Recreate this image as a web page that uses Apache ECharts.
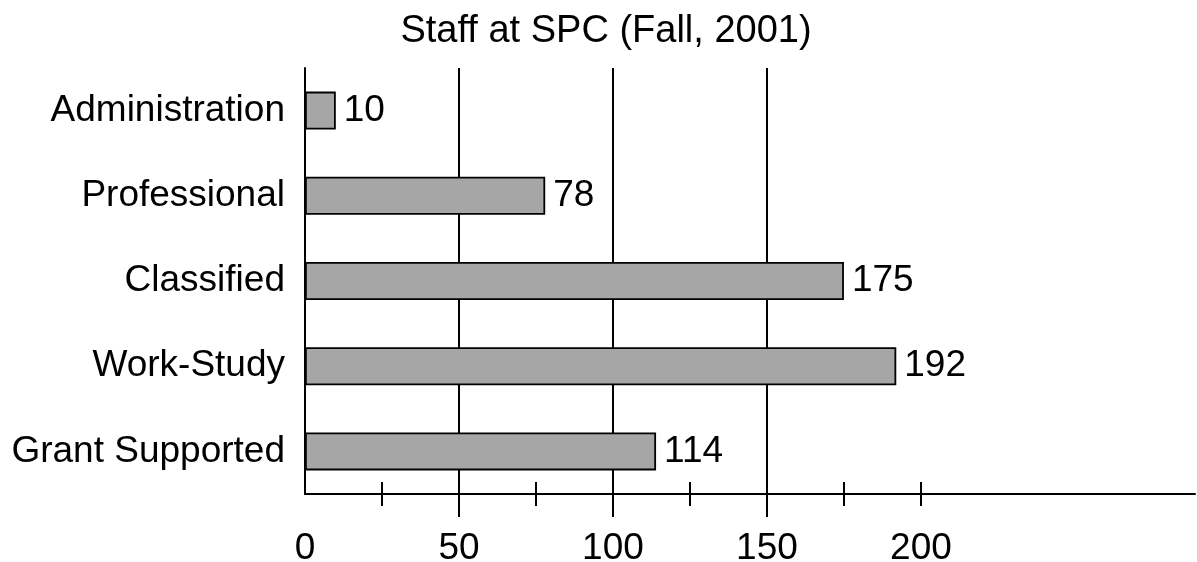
<!DOCTYPE html>
<html>
<head>
<meta charset="utf-8">
<script src="https://cdn.jsdelivr.net/npm/echarts@6/dist/echarts.min.js"></script>
<style>
  html, body { margin: 0; padding: 0; background: #fff; }
  #chart { width: 1197px; height: 562px; }
</style>
</head>
<body>
<div id="chart"></div>
<script>
  // data
  var categories = ['Administration', 'Professional', 'Classified', 'Work-Study', 'Grant Supported'];
  var staff = [10, 78, 175, 192, 114];
  var tickLabels = [0, 50, 100, 150, 200];
  var minorTicks = [25, 75, 125, 175, 200];
  var gridValues = [50, 100, 150];

  var font = 'Liberation Sans, Arial, sans-serif';
  var xMax = 289;

  var chart = echarts.init(document.getElementById('chart'));
  chart.setOption({
    animation: false,
    textStyle: {fontFamily: font, color: '#000'},
    title: {
      text: 'Staff at SPC (Fall, 2001)',
      left: 601,
      textAlign: 'center',
      top: 8,
      textStyle: {fontFamily: font, fontSize: 38, fontWeight: 'normal', color: '#000'}
    },
    grid: {left: 305, right: 2, top: 68, bottom: 68, containLabel: false, outerBoundsMode: 'none'},
    xAxis: [
      // main axis: line, labels, minor ticks below
      {
        type: 'value', min: 0, max: xMax, position: 'bottom',
        axisLine: {show: true, lineStyle: {color: '#000', width: 2}},
        axisTick: {show: true, customValues: minorTicks, length: 12, lineStyle: {color: '#000', width: 2}},
        axisLabel: {customValues: tickLabels, fontSize: 37, color: '#000', fontFamily: font, margin: 36},
        splitLine: {show: false}
      },
      // minor ticks above the line (crossing ticks)
      {
        type: 'value', min: 0, max: xMax, position: 'bottom',
        axisLine: {show: false},
        axisTick: {show: true, inside: true, customValues: minorTicks, length: 12, lineStyle: {color: '#000', width: 2}},
        axisLabel: {show: false},
        splitLine: {show: false}
      },
      // long ticks under the grid lines
      {
        type: 'value', min: 0, max: xMax, position: 'bottom',
        axisLine: {show: false},
        axisTick: {show: true, customValues: gridValues, length: 23, lineStyle: {color: '#000', width: 2}},
        axisLabel: {show: false},
        splitLine: {show: false}
      }
    ],
    yAxis: {
      type: 'category',
      inverse: true,
      data: categories,
      axisLine: {show: true, lineStyle: {color: '#000', width: 2}},
      axisTick: {show: false},
      axisLabel: {fontSize: 37, color: '#000', fontFamily: font, margin: 20}
    },
    series: [
      {
        type: 'bar',
        xAxisIndex: 0,
        z: 3,
        data: staff,
        barWidth: 38,
        itemStyle: {color: '#a6a6a6', borderColor: '#000', borderWidth: 1.8},
        label: {show: true, position: 'right', distance: 8, fontSize: 37, color: '#000', fontFamily: font},
        markLine: {
          silent: true,
          z: 1,
          symbol: 'none',
          label: {show: false},
          lineStyle: {color: '#000', width: 2, type: 'solid'},
          data: gridValues.map(function (v) { return {xAxis: v}; })
        }
      }
    ]
  });
</script>
</body>
</html>
